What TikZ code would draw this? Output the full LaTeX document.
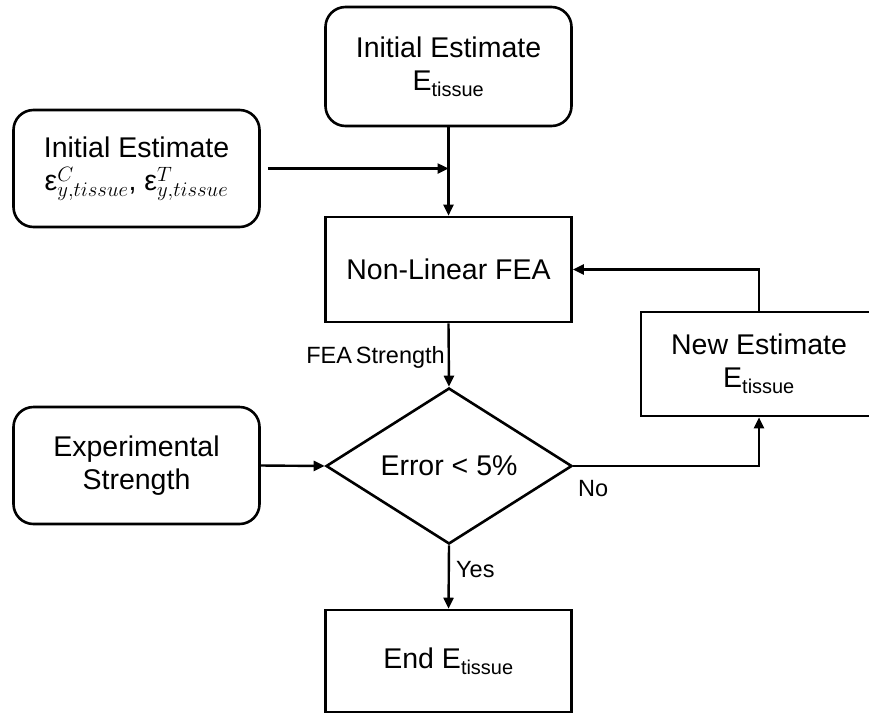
\documentclass[tikz,border=0pt]{standalone}
\usepackage{fontspec}
\setmainfont{Liberation Sans}
\usetikzlibrary{shapes.geometric,arrows.meta}
\tikzset{
  base/.style={draw=black, line width=2.6pt, align=center, inner sep=0pt,
    font=\fontsize{28.5}{33}\selectfont},
  rbox/.style={base, rectangle, rounded corners=20pt},
  sbox/.style={base, rectangle},
  dbox/.style={base, diamond, aspect=1.577},
  arr/.style={line width=2.4pt, -{Triangle[length=11pt,width=10pt]}},
  lbl/.style={font=\fontsize{23.5}{27}\selectfont, inner sep=0pt}
}
\newcommand{\Etis}{E\textsubscript{tissue}}
\newcommand{\scr}[1]{\mbox{\fontsize{20.5}{21}\selectfont$#1$}}
\newcommand{\epsyt}[1]{ε$^{\scr{#1}}_{\scr{y{,}tissue}}$}
\begin{document}
\begin{tikzpicture}[x=1pt,y=-1pt]
\clip (0,0) rectangle (869,713);
\fill[white] (0,0) rectangle (869,713);
% nodes
\node[rbox, minimum width=246pt, minimum height=119pt] (top) at (448.5,66.5) {Initial Estimate\\ \Etis};
\node[rbox, minimum width=246pt, minimum height=117pt] (left) at (136.5,168.5) {Initial Estimate\\ \epsyt{C}, \epsyt{T}};
\node[sbox, minimum width=246pt, minimum height=105pt] (fea) at (448.5,269.5) {Non-Linear FEA};
\node[dbox, minimum width=246pt, minimum height=156pt] (err) at (449,466) {Error < 5\%};
\node[rbox, minimum width=246pt, minimum height=117pt] (exp) at (136.5,465.5) {Experimental\\ Strength};
\node[sbox, minimum width=236pt, minimum height=104pt] (new) at (759,364) {New Estimate\\ \Etis};
\node[sbox, minimum width=246pt, minimum height=102pt] (end) at (448.5,661) {End \Etis};
% coordinates
\coordinate (j1) at (top.south |- left.east);
\coordinate (lstart) at ([xshift=7pt]left.east);
\coordinate (noc) at (new.south |- err.east);
% connectors
\draw[line width=2.4pt] (top.south) -- (j1);
\draw[arr] (j1) -- (fea.north);
\draw[arr] (lstart) -- (j1);
\draw[arr] (fea.south) -- (err.north);
\draw[arr] (exp.east) -- (err.west);
\draw[arr] (err.south) -- (end.north);
\draw[arr] (err.east) -- (noc) -- (new.south);
\draw[arr] (new.north) |- (fea.east);
% labels
\node[lbl, anchor=east] (lfea) at (445,357) {FEA\,Strength};
\node[lbl, anchor=west] (lyes) at (456,570) {Yes};
\node[lbl, anchor=west] (lno) at (578,489) {No};
\end{tikzpicture}
\end{document}
